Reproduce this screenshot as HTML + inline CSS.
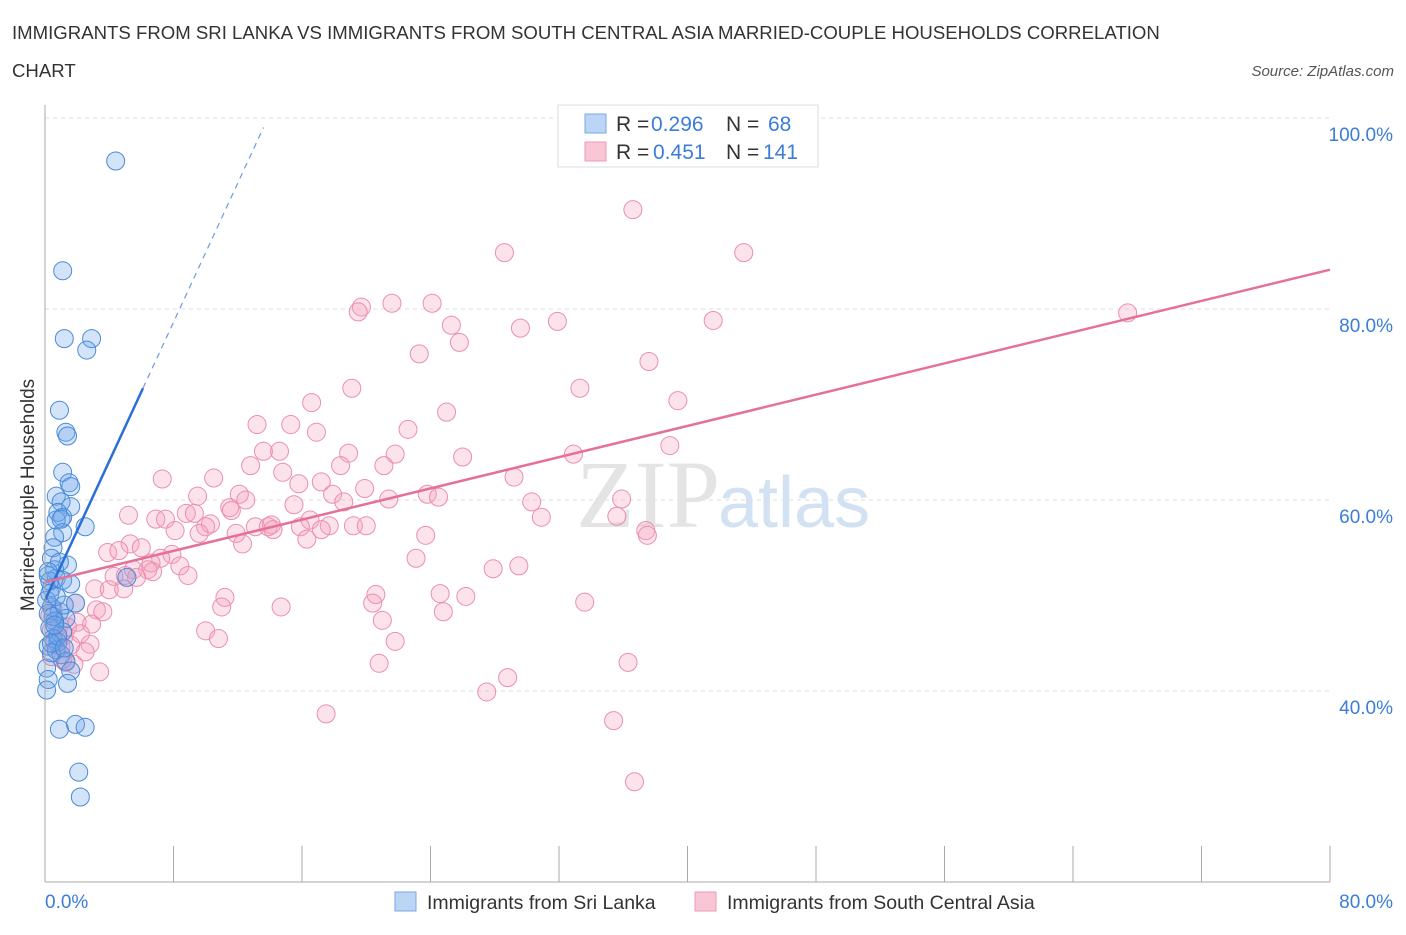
<!DOCTYPE html>
<html><head><meta charset="utf-8"><style>
body{margin:0;background:#fff;font-family:"Liberation Sans",sans-serif;}
</style></head><body>
<svg width="1406" height="930" xmlns="http://www.w3.org/2000/svg">
<text x="12" y="39" font-size="18.6" fill="#333">IMMIGRANTS FROM SRI LANKA VS IMMIGRANTS FROM SOUTH CENTRAL ASIA MARRIED-COUPLE HOUSEHOLDS CORRELATION</text>
<text x="12" y="77" font-size="18.6" fill="#333">CHART</text>
<text x="1394" y="76" font-size="15" fill="#555" font-style="italic" text-anchor="end">Source: ZipAtlas.com</text>
<g id="grid"></g>
<text x="720" y="527" font-size="96" font-family="Liberation Serif,serif" fill="#e4e4e4" text-anchor="end">ZIP</text>
<text x="718" y="527" font-size="72" fill="#d3e2f3">atlas</text>
<g id="pts"></g>
<g id="lines"></g>
<line x1="45" y1="105" x2="45" y2="882" stroke="#aaa"/>
<line x1="45" y1="882" x2="1330" y2="882" stroke="#aaa"/>
<text x="34" y="495" font-size="19" fill="#333" text-anchor="middle" transform="rotate(-90 34 495)">Married-couple Households</text>
<text x="45" y="908" font-size="19" fill="#3b7dd8">0.0%</text>
<text x="1393" y="908" font-size="19" fill="#3b7dd8" text-anchor="end">80.0%</text>
<g>
<rect x="558" y="105" width="260" height="62" fill="#fff" stroke="#ddd"/>
<rect x="585" y="114" width="21" height="19" fill="#bcd5f5" stroke="#7aa8e6"/>
<rect x="585" y="142" width="21" height="19" fill="#f9c6d6" stroke="#ee9ab6"/>
<text x="616" y="131" font-size="21" fill="#333">R =</text>
<text x="651" y="131" font-size="21" fill="#3b7dd8">0.296</text>
<text x="726" y="131" font-size="21" fill="#333">N =</text>
<text x="768" y="131" font-size="21" fill="#3b7dd8">68</text>
<text x="616" y="159" font-size="21" fill="#333">R =</text>
<text x="653" y="159" font-size="21" fill="#3b7dd8">0.451</text>
<text x="726" y="159" font-size="21" fill="#333">N =</text>
<text x="763" y="159" font-size="21" fill="#3b7dd8">141</text>
</g>
<g>
<rect x="395" y="892" width="21" height="19" fill="#bcd5f5" stroke="#7aa8e6"/>
<text x="427" y="909" font-size="19.5" fill="#333">Immigrants from Sri Lanka</text>
<rect x="695" y="892" width="21" height="19" fill="#f9c6d6" stroke="#ee9ab6"/>
<text x="727" y="909" font-size="19.5" fill="#333">Immigrants from South Central Asia</text>
</g>
</svg>
<script>
const yTicks=[40,60,80,100];
const yTickLabels=["40.0%","60.0%","80.0%","100.0%"];
const xTicks=[0,8,16,24,32,40,48,56,64,72,80];
const blueX=[4.4,1.1,1.2,2.9,2.6,0.9,1.3,1.4,1.1,1.5,1.6,0.7,1.0,1.6,0.8,1.1,0.7,2.5,1.1,0.6,0.5,0.4,1.4,0.6,0.2,0.7,1.1,1.6,0.4,5.1,0.1,1.9,0.4,0.9,0.2,1.3,0.6,0.3,1.1,0.5,0.8,0.2,0.7,1.0,1.3,1.6,0.1,0.2,1.4,0.1,0.9,1.9,2.5,2.1,2.2,0.3,0.9,0.5,1.2,0.4,0.8,0.3,0.6,1.0,0.2,0.7,0.4,1.2];
const blueY=[95.5,84.0,76.9,76.9,75.7,69.4,67.1,66.7,62.9,61.8,61.4,60.4,59.8,59.3,58.7,58.2,57.9,57.2,56.6,56.1,55.0,53.9,53.2,52.7,52.1,51.8,51.6,51.2,50.8,51.9,49.5,49.2,48.8,48.3,48.1,47.6,47.3,46.6,46.2,45.5,45.1,44.7,44.3,43.8,43.1,42.1,42.4,41.2,40.8,40.1,36.0,36.5,36.2,31.5,28.9,51.5,53.5,47.8,49.0,44.0,45.8,50.2,46.9,58.0,52.5,49.9,45.0,44.5];
const pinkX=[36.6,28.6,43.5,67.4,21.6,24.1,19.7,19.5,25.3,29.6,31.9,41.6,25.8,23.3,37.6,19.1,33.3,16.6,39.4,25.0,13.2,15.3,16.9,22.6,38.9,13.6,14.6,18.9,21.8,26.0,32.9,12.8,18.4,21.1,14.8,29.2,7.3,10.5,15.8,17.2,19.9,17.9,12.1,9.5,23.8,24.5,35.9,18.6,21.4,15.5,30.3,12.5,11.5,8.8,9.3,11.6,30.9,35.6,5.2,6.9,7.5,16.5,10.3,10.0,13.1,13.9,14.1,15.9,17.7,19.2,20.0,8.1,9.6,11.9,14.2,17.2,23.7,37.4,37.5,12.3,16.3,5.3,6.0,3.9,4.6,7.9,23.1,7.2,6.6,8.4,6.4,6.7,5.5,27.9,29.5,5.0,4.3,8.9,5.7,3.1,4.0,4.9,20.6,24.6,26.2,11.2,20.4,33.6,1.9,11.0,14.7,3.2,3.6,24.8,21.0,2.0,2.9,1.4,0.4,10.0,1.2,10.8,21.8,0.6,2.8,1.0,2.5,0.4,1.3,20.8,36.3,3.4,28.8,27.5,17.5,35.4,36.7,0.8,1.6,0.3,2.2,1.1,0.5,1.8,0.9];
const pinkY=[90.4,85.9,85.9,79.6,80.6,80.6,80.2,79.7,78.3,78.0,78.7,78.8,76.5,75.3,74.5,71.7,71.7,70.2,70.4,69.2,67.9,67.9,67.1,67.4,65.7,65.1,65.1,64.9,64.8,64.5,64.8,63.6,63.6,63.6,62.9,62.4,62.2,62.3,61.7,61.9,61.2,60.6,60.6,60.4,60.6,60.3,60.1,59.8,60.1,59.5,59.8,60.0,59.2,58.6,58.6,58.9,58.2,58.3,58.4,58.0,58.0,57.9,57.5,57.2,57.2,57.2,57.4,57.2,57.3,57.3,57.3,56.8,56.5,56.5,56.9,56.9,56.3,56.8,56.3,55.4,55.9,55.4,55.0,54.5,54.7,54.3,53.9,53.9,53.4,53.1,52.7,52.5,52.7,52.8,53.1,52.1,52.0,52.1,51.9,50.7,50.6,50.7,50.1,50.2,49.9,49.8,49.2,49.3,49.2,48.8,48.8,48.5,48.3,48.3,47.4,47.2,47.0,46.7,46.4,46.3,45.8,45.5,45.2,45.1,44.9,44.6,44.1,43.6,43.0,42.9,43.0,42.0,41.4,39.9,37.6,36.9,30.5,45.5,44.8,47.9,46.0,43.3,48.6,42.8,46.9];
const blueTrend=[49.5,3.64], pinkTrend=[51.4,0.409];
const X=v=>45+v*1285/80, Y=v=>1073-v*9.55;
const NS="http://www.w3.org/2000/svg";
function mk(t,a,p){const e=document.createElementNS(NS,t);for(const k in a)e.setAttribute(k,a[k]);p.appendChild(e);return e;}
const grid=document.getElementById('grid');
yTicks.forEach((t,i)=>{
 const l=mk('line',{x1:45,x2:1330,y1:Y(t),y2:Y(t),stroke:'#ddd','stroke-dasharray':'4,4'},grid);
 
 
 const tx=mk('text',{x:1393,y:Y(t)+23,'font-size':19,fill:'#3b7dd8','text-anchor':'end'},grid);
 tx.textContent=yTickLabels[i];
 
 
});
xTicks.forEach(t=>{
 const l=mk('line',{x1:X(t),x2:X(t),y1:846,y2:882,stroke:'#aaa'},grid);
 
 
});
const pts=document.getElementById('pts');
pinkX.forEach((v,i)=>{
 const c=mk('circle',{cx:X(v),cy:Y(pinkY[i]),r:9,fill:'rgba(244,160,188,0.3)',stroke:'#ea8fae','stroke-width':1},pts);
 
 
});
blueX.forEach((v,i)=>{
 const c=mk('circle',{cx:X(v),cy:Y(blueY[i]),r:9,fill:'rgba(110,165,235,0.3)',stroke:'#4a8ad8','stroke-width':1},pts);
 
 
});
const lines=document.getElementById('lines');
let l=mk('line',{x1:X(0),y1:Y(blueTrend[0]),x2:X(6.1),y2:Y(blueTrend[0]+blueTrend[1]*6.1),stroke:'#2a6fd6','stroke-width':2.5},lines);


l=mk('line',{x1:X(6.1),y1:Y(blueTrend[0]+blueTrend[1]*6.1),x2:X(13.6),y2:Y(blueTrend[0]+blueTrend[1]*13.6),stroke:'#6a9be0','stroke-width':1.2,'stroke-dasharray':'6,5'},lines);


l=mk('line',{x1:X(0),y1:Y(pinkTrend[0]),x2:X(80),y2:Y(pinkTrend[0]+pinkTrend[1]*80),stroke:'#e5709a','stroke-width':2.5},lines);


</script>
</body></html>
